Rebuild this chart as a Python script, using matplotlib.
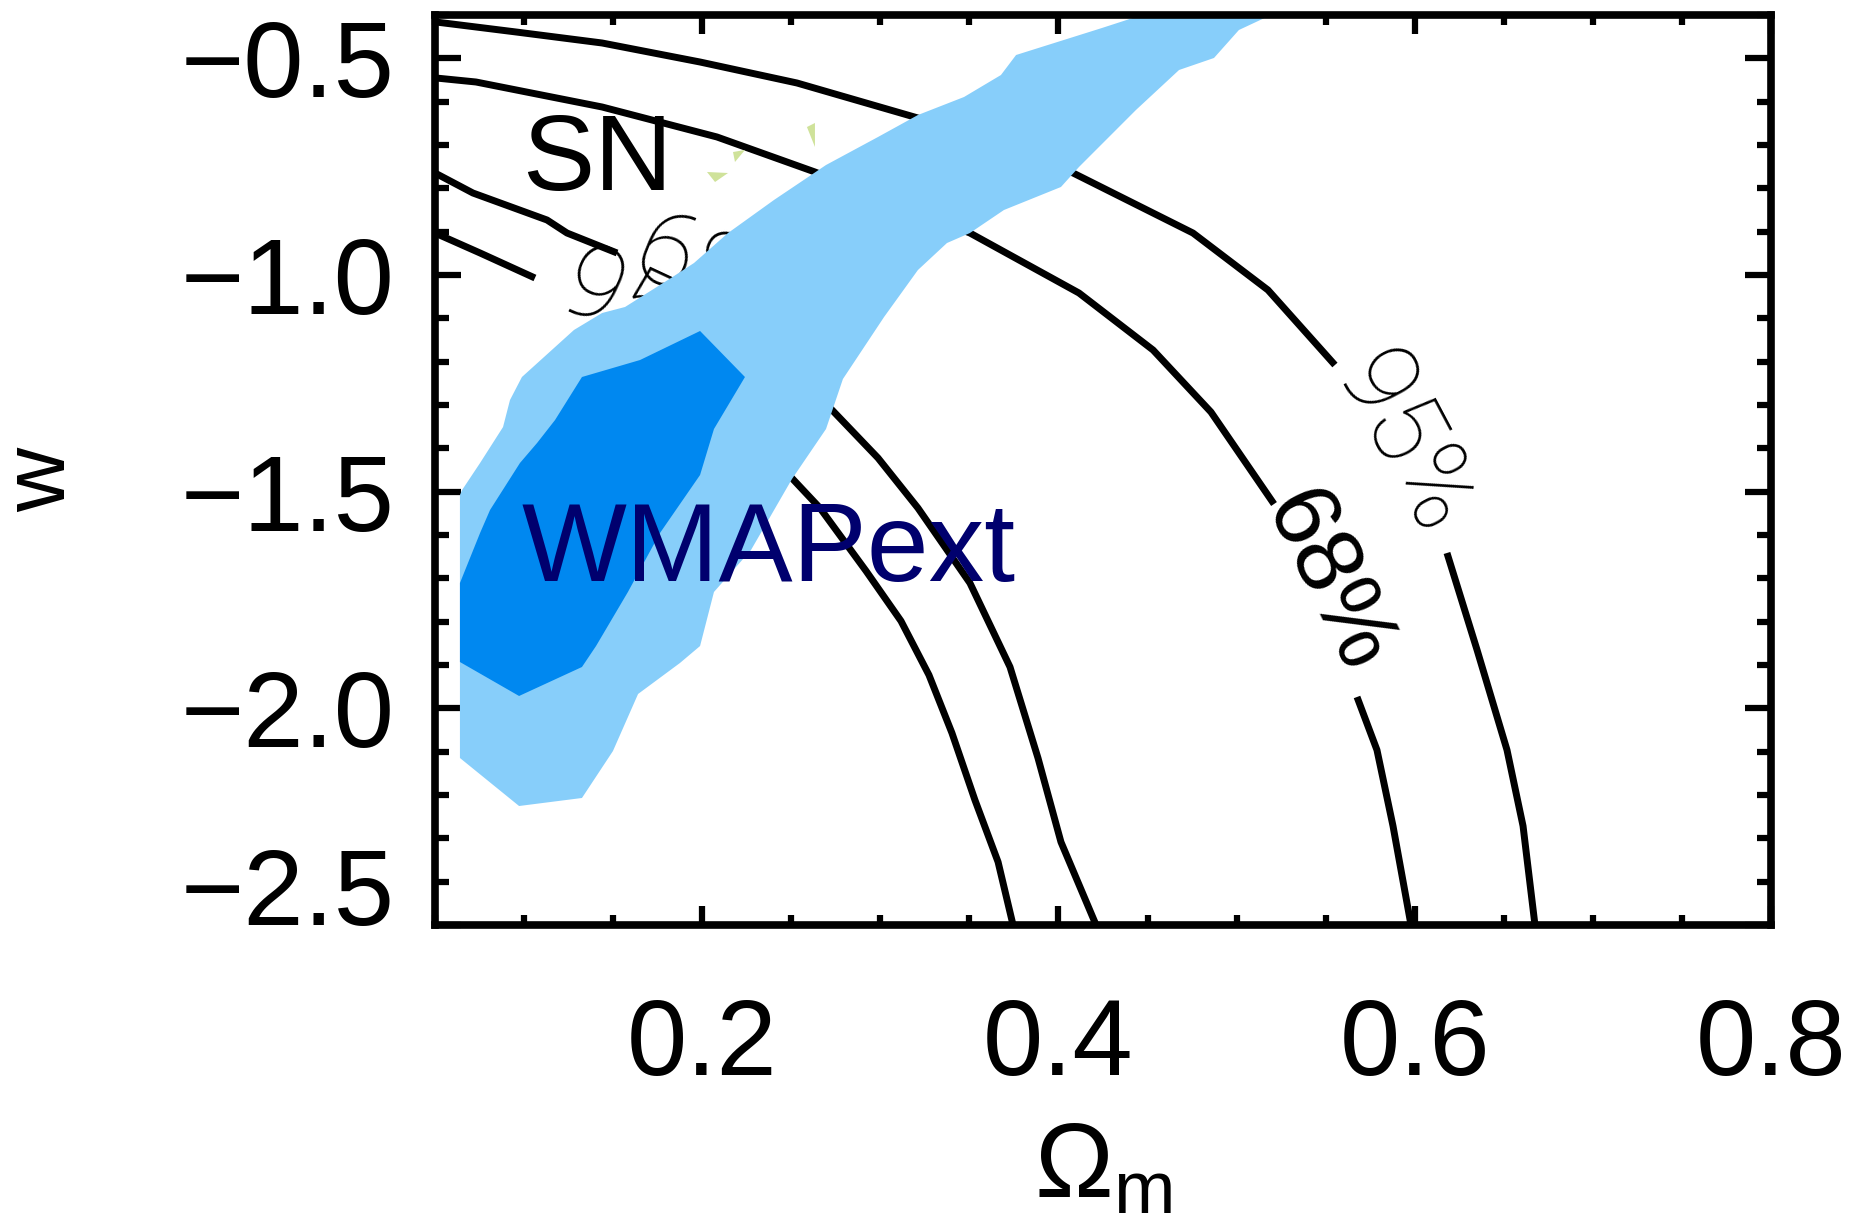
import matplotlib
matplotlib.use("Agg")
import matplotlib.pyplot as plt
from matplotlib.ticker import FixedLocator, MultipleLocator

plt.rcParams['font.family'] = ['Liberation Sans', 'DejaVu Sans']
plt.rcParams['mathtext.fontset'] = 'custom'
plt.rcParams['mathtext.rm'] = 'Liberation Sans'
plt.rcParams['mathtext.it'] = 'Liberation Sans:italic'
plt.rcParams['mathtext.bf'] = 'Liberation Sans:bold'

# ---------------- data ----------------
x_limits = [0.05, 0.8]
y_limits = [-2.5, -0.4]
x_ticks = [0.2, 0.4, 0.6, 0.8]
x_tick_labels = ['0.2', '0.4', '0.6', '0.8']
y_ticks = [-0.5, -1.0, -1.5, -2.0, -2.5]
y_tick_labels = ['\u22120.5', '\u22121.0', '\u22121.5', '\u22122.0', '\u22122.5']

# SN 95% contour, upper/right branch (two pieces, gap for label)
sn95_right_a_om = [0.0506, 0.0955, 0.1438, 0.1988, 0.2532, 0.3211, 0.4082, 0.4755, 0.5176, 0.5552]
sn95_right_a_w = [-0.4162, -0.4392, -0.4646, -0.5085, -0.5569, -0.6377, -0.7646, -0.9031, -1.0346, -1.2077]
sn95_right_b_om = [0.6181, 0.6350, 0.6518, 0.6608, 0.6675]
sn95_right_b_w = [-1.6415, -1.8654, -2.0962, -2.2715, -2.50]

# SN 68% contour, upper/right branch
sn68_right_a_om = [0.0506, 0.0730, 0.1438, 0.2083, 0.2633, 0.3503, 0.4115, 0.4531, 0.4856, 0.5210]
sn68_right_a_w = [-0.5454, -0.5546, -0.6123, -0.6815, -0.7623, -0.9031, -1.0415, -1.1731, -1.3162, -1.5285]
sn68_right_b_om = [0.5676, 0.5788, 0.5878, 0.5979]
sn68_right_b_w = [-1.9738, -2.0962, -2.2715, -2.50]

# SN 68% contour, lower/left branch
sn68_left_a_om = [0.0500, 0.0713, 0.1129, 0.1241, 0.1522]
sn68_left_a_w = [-0.7646, -0.8108, -0.8731, -0.9031, -0.9492]
sn68_left_b_om = [0.2324, 0.2729, 0.2987, 0.3211, 0.3503, 0.3728, 0.3885, 0.4014, 0.4211]
sn68_left_b_w = [-1.1615, -1.3115, -1.4223, -1.5377, -1.7108, -1.9046, -2.1146, -2.3085, -2.50]

# SN 95% contour, lower/left branch
sn95_left_a_om = [0.0500, 0.0753, 0.1061]
sn95_left_a_w = [-0.9031, -0.9492, -1.0069]
sn95_left_b_om = [0.2212, 0.2487, 0.2661, 0.2920, 0.3116, 0.3273, 0.3402, 0.3531, 0.3661, 0.3745]
sn95_left_b_w = [-1.3346, -1.4615, -1.5377, -1.6831, -1.7985, -1.9231, -2.0569, -2.2115, -2.3546, -2.50]

# WMAPext 95% region
wmap95_om = [0.4469, 0.4244, 0.3762, 0.3677, 0.3470, 0.3211, 0.2987, 0.2695, 0.2403, 0.2145,
             0.1954, 0.1825, 0.1567, 0.1438, 0.1280, 0.0988, 0.0921, 0.0882, 0.0753, 0.0652,
             0.0640, 0.0640, 0.0972, 0.1325, 0.1499, 0.1640, 0.1875, 0.1988, 0.2066, 0.2274,
             0.2504, 0.2695, 0.2790, 0.3021, 0.3211, 0.3374, 0.3503, 0.3694, 0.4014, 0.4115,
             0.4435, 0.4677, 0.4873, 0.5013, 0.5193]
wmap95_w = [-0.4000, -0.4300, -0.4923, -0.5385, -0.5892, -0.6308, -0.6815, -0.7462, -0.8269, -0.9031,
            -0.9723, -1.0069, -1.0738, -1.0877, -1.1269, -1.2354, -1.2885, -1.3508, -1.4338, -1.4962,
            -1.5077, -2.1146, -2.2254, -2.2069, -2.0985, -1.9669, -1.8954, -1.8562, -1.7315, -1.6346,
            -1.4708, -1.3554, -1.2400, -1.0969, -0.9885, -0.9262, -0.9031, -0.8500, -0.7969, -0.7508,
            -0.6192, -0.5269, -0.4992, -0.4346, -0.4000]

# WMAPext 68% region
wmap68_om = [0.1988, 0.2240, 0.2066, 0.1988, 0.1763, 0.1583, 0.1404, 0.1325, 0.0972, 0.0640,
             0.0640, 0.0753, 0.0809, 0.0977, 0.1073, 0.1174, 0.1325, 0.1651]
wmap68_w = [-1.1292, -1.2354, -1.3554, -1.4615, -1.5954, -1.7315, -1.8562, -1.9046, -1.9715, -1.8931,
            -1.7108, -1.5954, -1.5423, -1.4338, -1.3877, -1.3346, -1.2354, -1.1962]

# small visible slivers of the combined region
sliver1_om = [0.2027, 0.2145, 0.2072]
sliver1_w = [-0.7623, -0.7646, -0.7854]
sliver2_om = [0.2173, 0.2240, 0.2184]
sliver2_w = [-0.7162, -0.7115, -0.7392]
sliver3_om = [0.2588, 0.2633, 0.2633]
sliver3_w = [-0.6585, -0.6492, -0.7046]

# contour labels: text, Omega_m, w, angle, style
contour_labels = [
    ('95%', 0.5934, -1.3923, -62, 'thin'),
    ('68%', 0.5507, -1.7085, -64, 'thick'),
    ('95%', 0.1718, -1.1038, -25, 'thin'),
    ('68%', 0.2134, -1.0185, -22, 'thin'),
]

# ---------------- figure ----------------
W, H = 1851, 1228
fig = plt.figure(figsize=(W / 100, H / 100), dpi=100)
ax = fig.add_axes([435 / W, 1 - 925 / H, 1336 / W, 910 / H])

light_blue = '#87CEFA'
dark_blue = '#0088F0'
navy = '#00006E'

line_kw = dict(color='black', lw=5.0, solid_capstyle='butt', solid_joinstyle='round', zorder=2)
for om, w in [(sn95_right_a_om, sn95_right_a_w), (sn95_right_b_om, sn95_right_b_w),
              (sn68_right_a_om, sn68_right_a_w), (sn68_right_b_om, sn68_right_b_w),
              (sn68_left_a_om, sn68_left_a_w), (sn68_left_b_om, sn68_left_b_w),
              (sn95_left_a_om, sn95_left_a_w), (sn95_left_b_om, sn95_left_b_w)]:
    ax.plot(om, w, **line_kw)

for txt, om, w, ang, kind in contour_labels:
    if kind == 'thin':
        ax.text(om, w, txt, rotation=ang, rotation_mode='anchor', ha='center', va='center',
                fontsize=74, family=['Roboto', 'DejaVu Sans'], fontweight='light',
                color='black', zorder=2)
    else:
        ax.text(om, w, txt, rotation=ang, rotation_mode='anchor', ha='center', va='center',
                fontsize=68, color='black', zorder=2)

ax.fill(wmap95_om, wmap95_w, color=light_blue, lw=0, zorder=3)
ax.fill(wmap68_om, wmap68_w, color=dark_blue, lw=0, zorder=4)
for om, w in [(sliver1_om, sliver1_w), (sliver2_om, sliver2_w), (sliver3_om, sliver3_w)]:
    ax.fill(om, w, color='#CFE29A', lw=0, zorder=3)

ax.text(0.0988, -0.8038, 'SN', fontsize=78, color='black', ha='left', va='baseline', zorder=6)
ax.text(0.0988, -1.7062, 'WMAPext', fontsize=80, color=navy, ha='left', va='baseline', zorder=6)

ax.set_xlim(x_limits)
ax.set_ylim(y_limits)
ax.xaxis.set_major_locator(FixedLocator(x_ticks))
ax.set_xticklabels(x_tick_labels)
ax.xaxis.set_minor_locator(MultipleLocator(0.05))
ax.yaxis.set_major_locator(FixedLocator(y_ticks))
ax.set_yticklabels(y_tick_labels)
ax.yaxis.set_minor_locator(MultipleLocator(0.1))

ax.tick_params(which='both', direction='in', top=True, right=True, width=4.5, colors='black')
ax.tick_params(axis='x', which='major', length=14, pad=52, labelsize=78)
ax.tick_params(axis='x', which='minor', length=7)
ax.tick_params(axis='y', which='major', length=19, pad=29, labelsize=78)
ax.tick_params(axis='y', which='minor', length=10)
for lab in ax.get_yticklabels():
    if lab.get_text() == '\u22122.5':
        lab.set_va('baseline')

for sp in ax.spines.values():
    sp.set_linewidth(5.5)
    sp.set_zorder(10)

ax.set_xlabel(r'$\Omega_{\mathrm{m}}$', fontsize=76)
ax.xaxis.set_label_coords(0.5, -0.215)
ax.xaxis.label.set_va('top')
ax.set_ylabel('w', fontsize=64)
ax.yaxis.set_label_coords(-0.263, 0.489)

fig.savefig('out.png', dpi=100)
